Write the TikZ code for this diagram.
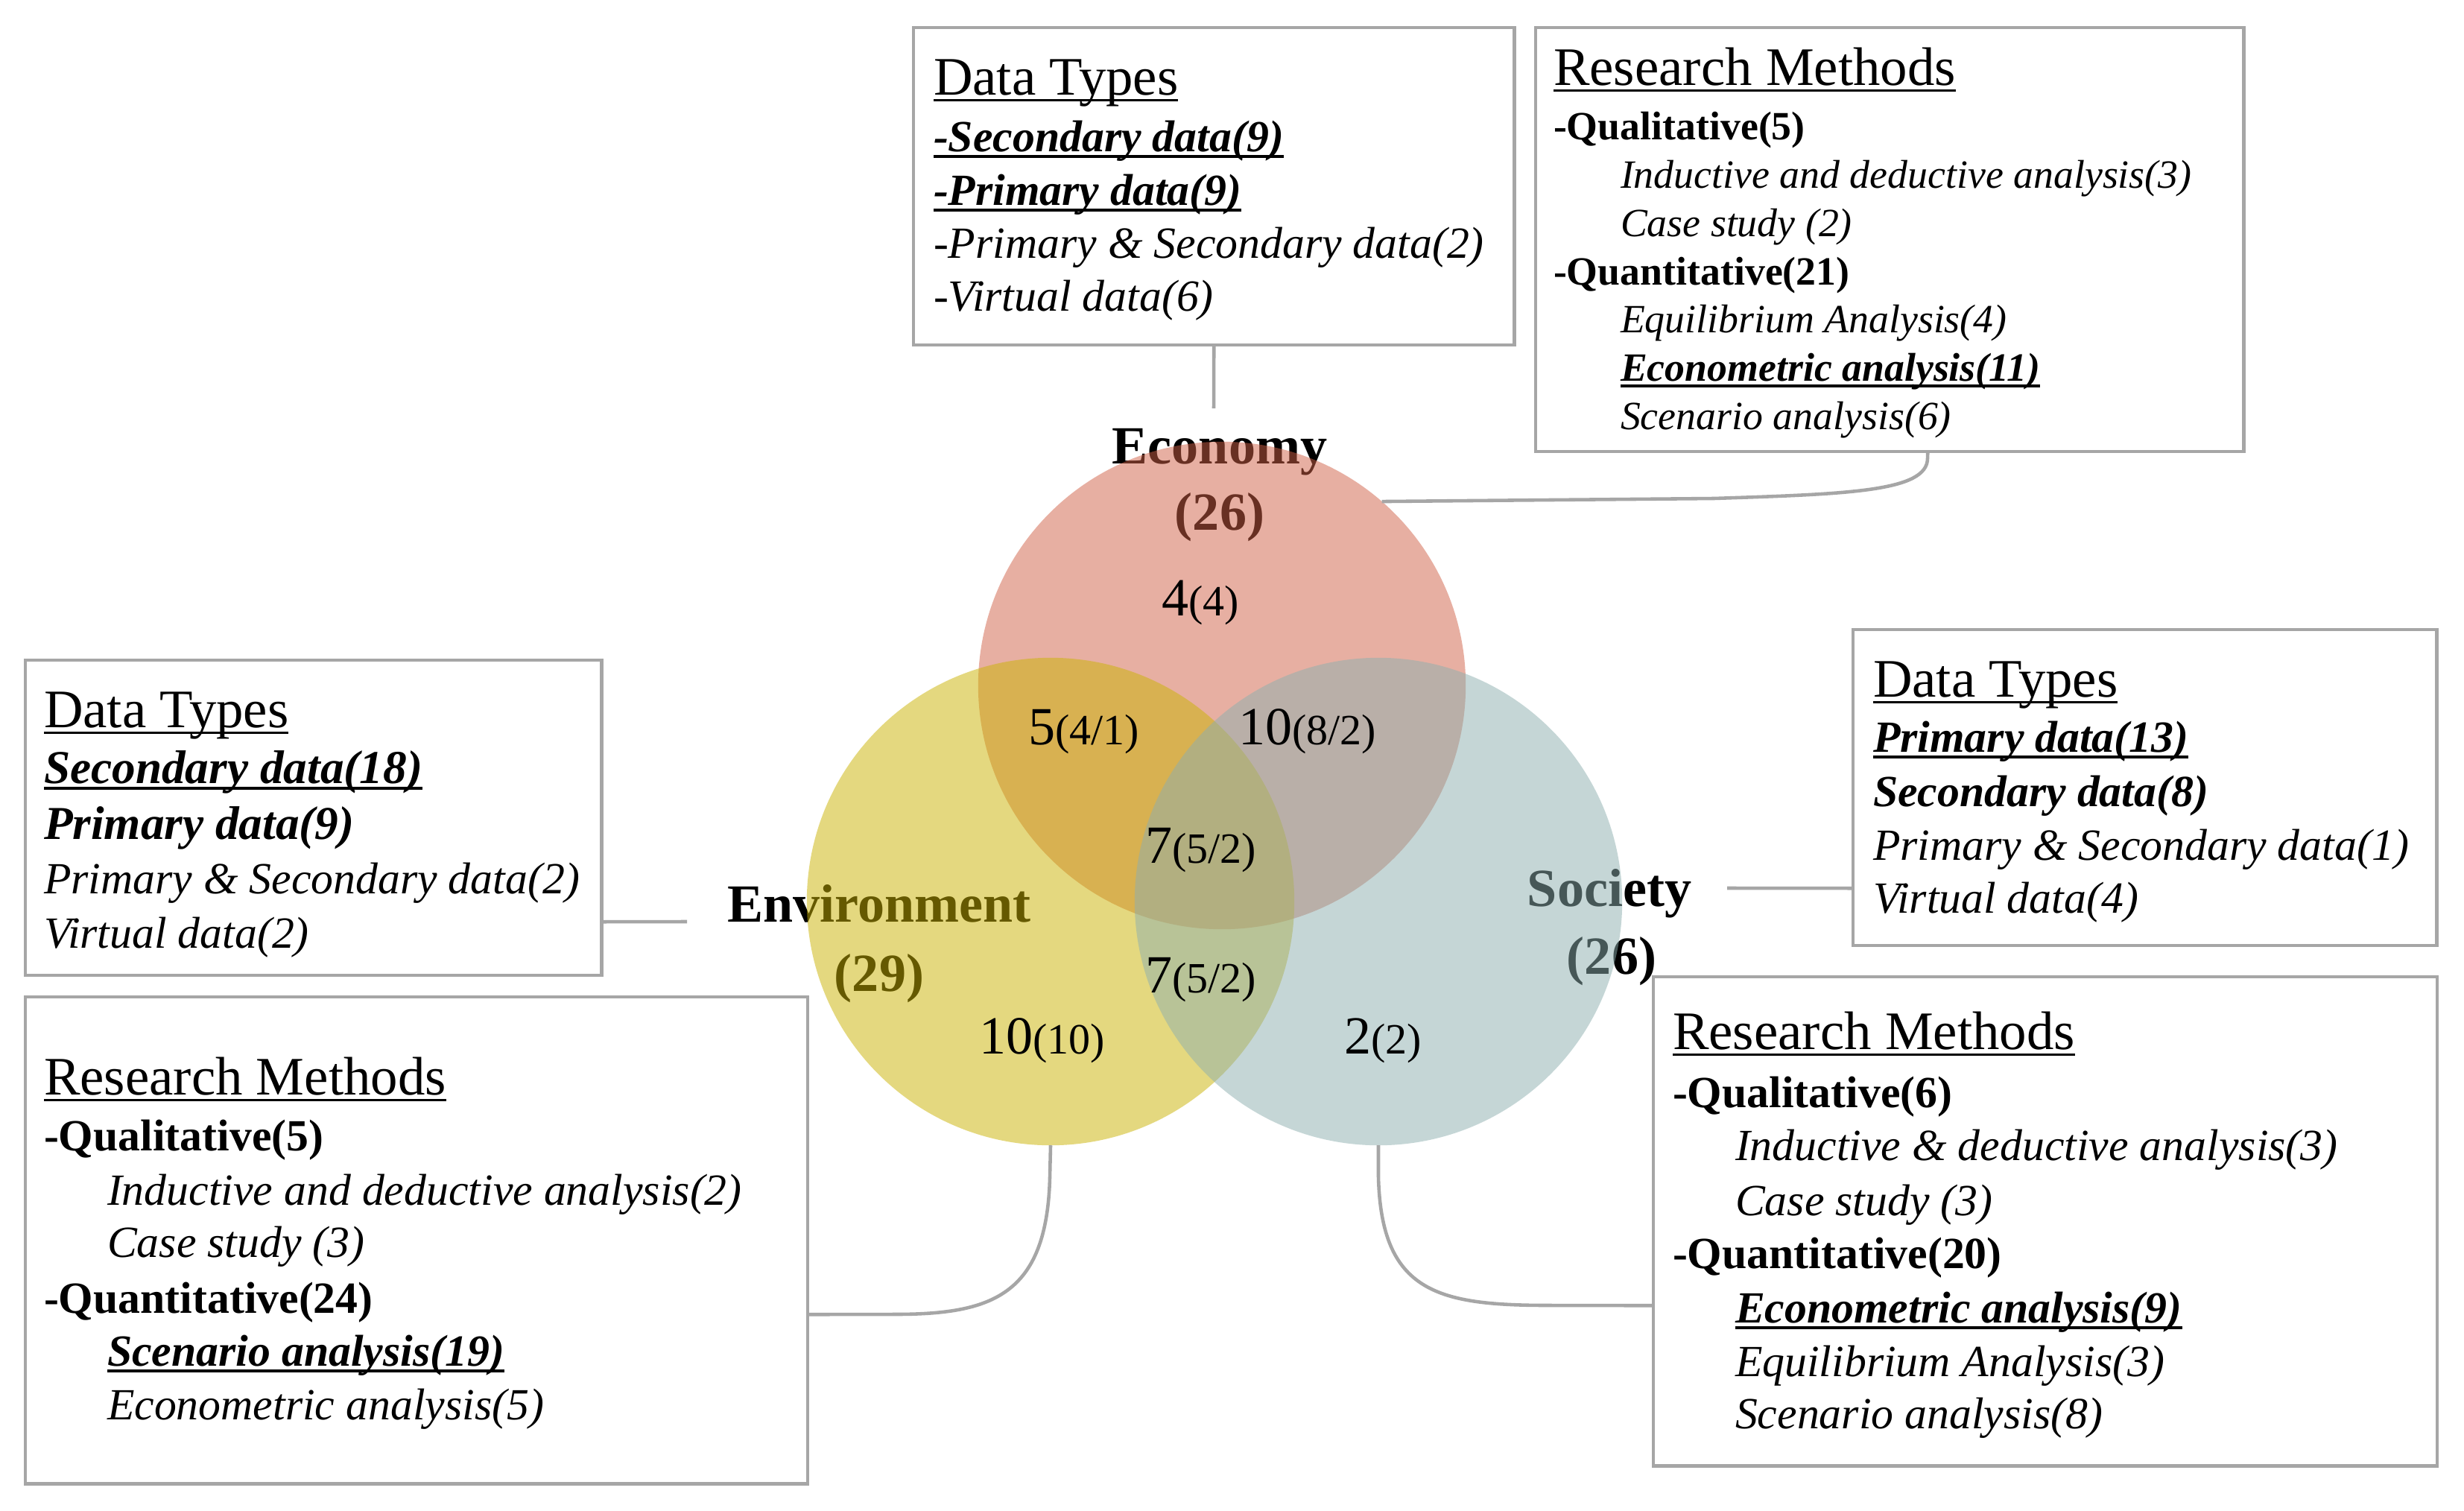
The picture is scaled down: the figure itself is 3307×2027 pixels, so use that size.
\documentclass[tikz,border=0pt]{standalone}
\usepackage{fontspec}
\setmainfont{Liberation Serif}
\definecolor{boxgray}{RGB}{166,166,166}
\definecolor{econcol}{RGB}{209,97,71}
\definecolor{envcol}{RGB}{203,179,1}
\definecolor{soccol}{RGB}{141,175,175}
\newcommand\myul[2][1.3pt]{\setbox0\hbox{#2}\rlap{\rule[-2.6pt]{\wd0}{#1}}\box0}
\newcommand\nsm[1]{{\fontsize{16.5}{19}\selectfont #1}}
\tikzset{
  box/.style={draw=boxgray, line width=1.2pt, rectangle, inner sep=0pt, outer sep=0pt, anchor=north west},
  conn/.style={draw=boxgray, line width=1.3pt},
  ln/.style={anchor=base west, inner sep=0pt, outer sep=0pt},
  ttl/.style={ln, font=\fontsize{20.7}{24}\selectfont},
  bd/.style={ln, font=\fontsize{17}{20}\selectfont},
  wbd/.style={ln, font=\fontsize{18}{21}\selectfont},
  sbd/.style={ln, font=\fontsize{15.3}{18}\selectfont},
  lbl/.style={anchor=base, inner sep=0pt, outer sep=0pt, font=\fontsize{20.5}{24}\selectfont\bfseries},
  num/.style={ln, font=\fontsize{20.5}{24}\selectfont},
  venn/.style={circle, minimum size=6.54cm, inner sep=0pt, outer sep=0pt, fill opacity=0.5},
}
\begin{document}
\begin{tikzpicture}[x=0.01cm, y=-0.01cm]
\useasboundingbox (0,0) rectangle (3307,2027);
\fill[white] (0,0) rectangle (3307,2027);

% ---------- labels (under circles) ----------
\node[lbl] (lEcon)  at (1637,622) {Economy};
\node[lbl] (lEcon2) at (1637,711) {(26)};
\node[lbl] (lEnv)   at (1180,1237) {Environment};
\node[lbl] (lEnv2)  at (1180,1330) {(29)};
\node[lbl] (lSoc)   at (2160,1216) {Society};
\node[lbl] (lSoc2)  at (2163,1307) {(26)};

% ---------- circles ----------
\node[venn, fill=econcol] (econ) at (1640,920) {};
\node[venn, fill=envcol]  (env)  at (1410,1210) {};
\node[venn, fill=soccol]  (soc)  at (1850,1210) {};

% ---------- numbers ----------
\node[num] (n1) at (1559,826)  {4\nsm{(4)}};
\node[num] (n2) at (1380,999)  {5\nsm{(4/1)}};
\node[num] (n3) at (1662,999)  {10\nsm{(8/2)}};
\node[num] (n4) at (1537,1158) {7\nsm{(5/2)}};
\node[num] (n5) at (1537,1332) {7\nsm{(5/2)}};
\node[num] (n6) at (1314,1414) {10\nsm{(10)}};
\node[num] (n7) at (1804,1414) {2\nsm{(2)}};

% ---------- Economy: Data Types ----------
\node[box, minimum width=8.06cm, minimum height=4.26cm] (econDT) at (1226,37) {};
\node[ttl] (edt0) at (1253,127) {\myul[0.85pt]{Data Types}};
\node[bd]  (edt1) at (1253,203) {\myul{\textbf{\textit{-Secondary data(9)}}}};
\node[bd]  (edt2) at (1253,275) {\myul{\textbf{\textit{-Primary data(9)}}}};
\node[bd]  (edt3) at (1253,346) {\textit{-Primary \& Secondary data(2)}};
\node[bd]  (edt4) at (1253,417) {\textit{-Virtual data(6)}};

% ---------- Economy: Research Methods ----------
\node[box, minimum width=9.50cm, minimum height=5.69cm] (econRM) at (2061,37) {};
\node[ttl] (erm0) at (2085,114) {\myul[0.85pt]{Research Methods}};
\node[sbd] (erm1) at (2085,187) {\textbf{-Qualitative(5)}};
\node[sbd] (erm2) at (2175,252) {\textit{Inductive and deductive analysis(3)}};
\node[sbd] (erm3) at (2175,317) {\textit{Case study (2)}};
\node[sbd] (erm4) at (2085,382) {\textbf{-Quantitative(21)}};
\node[sbd] (erm5) at (2175,446) {\textit{Equilibrium Analysis(4)}};
\node[sbd] (erm6) at (2175,511) {\myul[1.2pt]{\textbf{\textit{Econometric analysis(11)}}}};
\node[sbd] (erm7) at (2175,576) {\textit{Scenario analysis(6)}};

% ---------- Environment: Data Types ----------
\node[box, minimum width=7.73cm, minimum height=4.23cm] (envDT) at (34,886) {};
\node[ttl] (vdt0) at (59,976)  {\myul[0.85pt]{Data Types}};
\node[wbd] (vdt1) at (59,1051) {\myul{\textbf{\textit{Secondary data(18)}}}};
\node[wbd] (vdt2) at (59,1126) {\textbf{\textit{Primary data(9)}}};
\node[bd]  (vdt3) at (59,1199) {\textit{Primary \& Secondary data(2)}};
\node[bd]  (vdt4) at (59,1272) {\textit{Virtual data(2)}};

% ---------- Environment: Research Methods ----------
\node[box, minimum width=10.49cm, minimum height=6.53cm] (envRM) at (34,1338) {};
\node[ttl] (vrm0) at (59,1469)  {\myul[0.85pt]{Research Methods}};
\node[bd]  (vrm1) at (59,1544)  {\textbf{-Qualitative(5)}};
\node[bd]  (vrm2) at (144,1617) {\textit{Inductive and deductive analysis(2)}};
\node[bd]  (vrm3) at (144,1687) {\textit{Case study (3)}};
\node[bd]  (vrm4) at (59,1762)  {\textbf{-Quantitative(24)}};
\node[bd]  (vrm5) at (144,1833) {\myul{\textbf{\textit{Scenario analysis(19)}}}};
\node[bd]  (vrm6) at (144,1905) {\textit{Econometric analysis(5)}};

% ---------- Society: Data Types ----------
\node[box, minimum width=7.83cm, minimum height=4.24cm] (socDT) at (2487,845) {};
\node[ttl] (sdt0) at (2514,935)  {\myul[0.85pt]{Data Types}};
\node[bd]  (sdt1) at (2514,1009) {\myul{\textbf{\textit{Primary data(13)}}}};
\node[bd]  (sdt2) at (2514,1082) {\textbf{\textit{Secondary data(8)}}};
\node[bd]  (sdt3) at (2514,1154) {\textit{Primary \& Secondary data(1)}};
\node[bd]  (sdt4) at (2514,1225) {\textit{Virtual data(4)}};

% ---------- Society: Research Methods ----------
\node[box, minimum width=10.51cm, minimum height=6.56cm] (socRM) at (2219,1311) {};
\node[ttl] (srm0) at (2245,1408) {\myul[0.85pt]{Research Methods}};
\node[bd]  (srm1) at (2245,1486) {\textbf{-Qualitative(6)}};
\node[bd]  (srm2) at (2329,1557) {\textit{Inductive \& deductive analysis(3)}};
\node[bd]  (srm3) at (2329,1631) {\textit{Case study (3)}};
\node[bd]  (srm4) at (2245,1702) {\textbf{-Quantitative(20)}};
\node[bd]  (srm5) at (2329,1775) {\myul{\textbf{\textit{Econometric analysis(9)}}}};
\node[bd]  (srm6) at (2329,1847) {\textit{Equilibrium Analysis(3)}};
\node[bd]  (srm7) at (2329,1917) {\textit{Scenario analysis(8)}};

% ---------- connectors ----------
\coordinate (cEconDT) at (1629,548);
\coordinate (cEnvDT)  at (922,1237);
\coordinate (cSocDT)  at (2318,1192);
\draw[conn] (econDT.south) -- (cEconDT);
\draw[conn] ([yshift=-1.395cm]envDT.east) -- (cEnvDT);
\draw[conn] (cSocDT) -- ([yshift=-1.35cm]socDT.west);
\draw[conn] ([xshift=0.51cm]econRM.south) -- (2587,615)
   .. controls (2587,660) and (2480,663) .. (2300,669) -- (econ.49.5);
\draw[conn] (env.south) -- (1409,1580)
   .. controls (1405,1740) and (1330,1764) .. (1200,1764) -- ([yshift=-0.995cm]envRM.east);
\draw[conn] (soc.south) -- (1850,1580)
   .. controls (1854,1735) and (1930,1752) .. (2080,1752) -- ([yshift=-1.13cm]socRM.west);
\end{tikzpicture}
\end{document}
